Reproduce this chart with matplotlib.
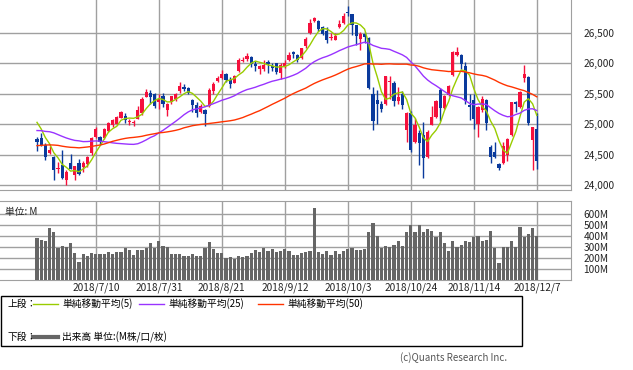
import numpy as np
import pandas as pd
import matplotlib
matplotlib.use("Agg")
import matplotlib.pyplot as plt
from matplotlib.patches import Rectangle
from matplotlib.lines import Line2D

plt.rcParams['font.family'] = ['Noto Sans CJK JP', 'DejaVu Sans']

# ---------------- data ----------------
holidays = ['2018-07-04', '2018-09-03', '2018-11-22', '2018-12-05']
dates = [d for d in pd.bdate_range('2018-06-19', '2018-12-07')
         if d.strftime('%Y-%m-%d') not in holidays]
date_labels = [f"{d.year}/{d.month}/{d.day}" for d in dates]

tick_dates = ["2018/7/10", "2018/7/31", "2018/8/21", "2018/9/12",
              "2018/10/3", "2018/10/24", "2018/11/14", "2018/12/7"]

opens = [24765, 24770, 24650, 24525, 24455, 24260, 24330, 24080, 24360, 24160,
         24360, 24290, 24345, 24520, 24790, 24790, 24775, 24890, 24990, 25010,
         25110, 25140, 25040, 25025, 25090, 25190, 25455, 25510, 25490, 25360,
         25460, 25240, 25370, 25420, 25540, 25610, 25590, 25400, 25315, 25200,
         25230, 25300, 25540, 25710, 25760, 25820, 25725, 25680, 25870, 26040,
         26080, 26100, 25990, 25900, 25900, 26030, 25950, 26000, 25836, 25960,
         26056, 26190, 26140, 26090, 26280, 26500, 26690, 26700, 26600, 26540,
         26410, 26390, 26598, 26660, 26835, 26810, 26630, 26400, 26480, 26420,
         25500, 25400, 25330, 25340, 25690, 25670, 25390, 25500, 24900, 25180,
         24700, 24850, 24830, 24460, 24990, 25124, 25560, 25260, 25480, 25810,
         26140, 26140, 25950, 25310, 25400, 25000, 25230, 25400, 24630, 24540,
         24350, 24360, 24500, 24820, 25370, 25280, 25760, 25780, 24740, 24920]
highs = [24790, 24850, 24690, 24640, 24480, 24380, 24580, 24250, 24509, 24320,
         24420, 24400, 24480, 24790, 24960, 24800, 24940, 25040, 25090, 25130,
         25215, 25180, 25090, 25070, 25300, 25440, 25580, 25565, 25510, 25492,
         25510, 25350, 25470, 25520, 25692, 25660, 25610, 25420, 25370, 25330,
         25250, 25600, 25700, 25785, 25892, 25850, 25780, 25810, 26090, 26110,
         26170, 26130, 26040, 25980, 26050, 26060, 26000, 26010, 26000, 26050,
         26180, 26200, 26160, 26260, 26440, 26725, 26770, 26710, 26620, 26600,
         26500, 26500, 26722, 26830, 26951, 26820, 26640, 26520, 26520, 26430,
         25610, 25560, 25380, 25800, 25800, 25710, 25620, 25550, 25200, 25220,
         25100, 24900, 25040, 24900, 25300, 25400, 25600, 25480, 25640, 26200,
         26277, 26160, 26020, 25500, 25500, 25300, 25460, 25420, 24660, 24700,
         24370, 24700, 24770, 25370, 25390, 25540, 25980, 25800, 24960, 25180]
lows = [24567, 24640, 24410, 24510, 24085, 24200, 24100, 24005, 24260, 24080,
        24160, 24220, 24300, 24500, 24780, 24650, 24760, 24880, 24960, 24990,
        25100, 25020, 24990, 24970, 25080, 25150, 25440, 25340, 25260, 25250,
        25290, 25130, 25340, 25380, 25520, 25550, 25490, 25200, 25120, 25190,
        24965, 25290, 25500, 25690, 25750, 25700, 25600, 25670, 25860, 26020,
        26040, 25940, 25880, 25830, 25880, 25850, 25870, 25830, 25740, 25930,
        26040, 26090, 26020, 26080, 26260, 26480, 26680, 26530, 26470, 26330,
        26380, 26380, 26580, 26650, 26780, 26470, 26300, 26220, 26330, 25580,
        24900, 25000, 25200, 25320, 25420, 25300, 25330, 25250, 24700, 24540,
        24690, 24330, 24122, 24450, 24980, 25100, 25050, 25250, 25460, 25800,
        26120, 25900, 25340, 25070, 24920, 24790, 25200, 24900, 24360, 24440,
        24250, 24340, 24400, 24810, 25200, 25260, 25700, 24980, 24242, 24260]
closes = [24700, 24658, 24462, 24581, 24253, 24283, 24118, 24216, 24271, 24307,
          24175, 24357, 24456, 24777, 24920, 24700, 24925, 25019, 25064, 25120,
          25199, 25065, 25058, 25044, 25242, 25414, 25527, 25451, 25307, 25415,
          25334, 25326, 25463, 25502, 25629, 25584, 25509, 25313, 25188, 25300,
          25162, 25559, 25669, 25759, 25822, 25734, 25657, 25790, 26050, 26064,
          26125, 25987, 25965, 25952, 25975, 25996, 25917, 25857, 25971, 25999,
          26146, 26155, 26062, 26247, 26406, 26657, 26743, 26562, 26492, 26385,
          26440, 26458, 26651, 26774, 26828, 26627, 26447, 26487, 26431, 25599,
          25053, 25340, 25251, 25798, 25707, 25379, 25444, 25317, 25191, 24583,
          24985, 24688, 24443, 24875, 25116, 25381, 25271, 25462, 25635, 26180,
          26191, 25989, 25387, 25286, 25080, 25289, 25413, 25017, 24466, 24465,
          24286, 24640, 24749, 25366, 25339, 25538, 25826, 25027, 24948, 24389]
# closes of the 49 sessions before the first candle (for the moving averages)
prior_closes = [24408, 24189, 24483, 24360, 24573, 24787, 24748, 24665, 24463, 24449,
                24024, 24084, 24322, 24311, 24163, 24099, 23925, 23930, 24263, 24357,
                24360, 24543, 24740, 24831, 24899, 24706, 24769, 24714, 24715, 25013,
                24834, 24887, 24812, 24753, 24361, 24668, 24416, 24635, 24814, 24800,
                25146, 25241, 25317, 25322, 25321, 25201, 25175, 25090, 24987]
volume_m = [380, 361, 355, 475, 442, 296, 314, 305, 335, 245,
            164, 233, 215, 245, 233, 233, 233, 254, 233, 254,
            254, 293, 269, 224, 269, 269, 293, 335, 293, 352,
            314, 305, 233, 233, 233, 215, 215, 233, 215, 215,
            293, 344, 278, 245, 245, 200, 209, 194, 218, 209,
            218, 245, 269, 254, 293, 260, 278, 254, 263, 278,
            260, 224, 224, 245, 254, 260, 657, 254, 233, 260,
            224, 260, 233, 260, 278, 293, 269, 269, 278, 442,
            523, 397, 293, 308, 299, 323, 352, 314, 442, 500,
            442, 500, 442, 469, 451, 388, 433, 335, 260, 359,
            299, 323, 352, 344, 388, 397, 352, 365, 451, 290,
            152, 305, 305, 359, 305, 484, 388, 421, 475, 397]

ma_periods = [5, 25, 50]
ma_colors = ['#99cc00', '#9933ff', '#ff3300']
ma_labels = ['単純移動平均(5)', '単純移動平均(25)', '単純移動平均(50)']

# ---------------- figure ----------------
W, H = 633, 370
fig = plt.figure(figsize=(W / 100, H / 100), dpi=100)

def fx(px):
    return px / W

def fy(py):
    return 1 - py / H

grid_c = '#a0a0a0'
up_c = '#f5103c'
dn_c = '#0a3a9c'

n = len(closes)
x = np.arange(n)
xl = (-37 / 4.2, (571 - 37) / 4.2)
tick_pos = [date_labels.index(t) for t in tick_dates]

# main price axes
ax = fig.add_axes([fx(0), fy(190), fx(571), 190 / H])
ax.set_xlim(*xl)
ax.set_ylim(23918, 27043)

o = np.array(opens, float)
c = np.array(closes, float)
h = np.array(highs, float)
l = np.array(lows, float)
up = c >= o
cols = np.where(up, up_c, dn_c)
ax.vlines(x, l, h, colors=cols, linewidth=1, zorder=3)
body_h = np.maximum(np.abs(c - o), 12)
ax.bar(x, body_h, bottom=np.minimum(o, c), width=0.72, color=cols,
       linewidth=0, zorder=4)

allc = np.array(prior_closes + closes, float)
for p, col in zip(ma_periods, ma_colors):
    ma = pd.Series(allc).rolling(p).mean().values[len(prior_closes):]
    ax.plot(x, ma, color=col, linewidth=1.0, zorder=5)

ax.set_yticks([24000, 24500, 25000, 25500, 26000, 26500])
ax.set_yticklabels(['24,000', '24,500', '25,000', '25,500', '26,000', '26,500'])
ax.yaxis.tick_right()
ax.set_xticks(tick_pos)
ax.set_xticklabels([])
ax.tick_params(axis='both', length=0, labelsize=7.3, pad=9, colors='#222222')
ax.grid(True, color=grid_c, linewidth=1)
ax.set_axisbelow(True)
for s in ['top', 'left']:
    ax.spines[s].set_visible(False)
for s in ['right', 'bottom']:
    ax.spines[s].set_color(grid_c)

# volume axes
axv = fig.add_axes([fx(0), fy(280), fx(571), 79 / H])
axv.set_xlim(*xl)
axv.set_ylim(0, 720)
axv.bar(x, volume_m, width=0.72, color='#666666', linewidth=0, zorder=3)
axv.set_yticks([100, 200, 300, 400, 500, 600])
axv.set_yticklabels(['100M', '200M', '300M', '400M', '500M', '600M'])
axv.yaxis.tick_right()
axv.set_xticks(tick_pos)
axv.set_xticklabels(tick_dates)
axv.tick_params(axis='y', length=0, labelsize=7.3, pad=9, colors='#222222')
axv.tick_params(axis='x', length=0, labelsize=7.3, pad=1.5, colors='#222222')
axv.grid(True, color=grid_c, linewidth=1)
axv.set_axisbelow(True)
axv.spines['left'].set_visible(False)
for s in ['top', 'right', 'bottom']:
    axv.spines[s].set_color(grid_c)
axv.text(fx(5) / fx(571), 0.93, '単位: M', transform=axv.transAxes,
         fontsize=7, va='top', ha='left', color='#222222')

# legend box
fig.patches.append(Rectangle((fx(0.5), fy(346)), fx(521.5), (346 - 296) / H,
                             transform=fig.transFigure, fill=False,
                             edgecolor='black', linewidth=1))
ly1, ly2 = fy(304), fy(337)
fig.text(fx(7), ly1, '上段：', fontsize=7, va='center', ha='left')
seg_x = [(33, 58), (139, 164), (258, 283)]
for (a, b), col, lab in zip(seg_x, ma_colors, ma_labels):
    fig.add_artist(Line2D([fx(a), fx(b)], [ly1, ly1], color=col, linewidth=1,
                          transform=fig.transFigure))
    fig.text(fx(b + 4), ly1, lab, fontsize=7, va='center', ha='left')
fig.text(fx(7), ly2, '下段：', fontsize=7, va='center', ha='left')
fig.add_artist(Line2D([fx(33), fx(58)], [ly2, ly2], color='#666666', linewidth=3,
                      transform=fig.transFigure))
fig.text(fx(62), ly2, '出来高 単位:(M株/口/枚)', fontsize=7, va='center', ha='left')

fig.text(fx(507), fy(358), '(c)Quants Research Inc.', fontsize=7,
         va='center', ha='right', color='#555555')

fig.savefig('out.png', dpi=100, facecolor='white')
